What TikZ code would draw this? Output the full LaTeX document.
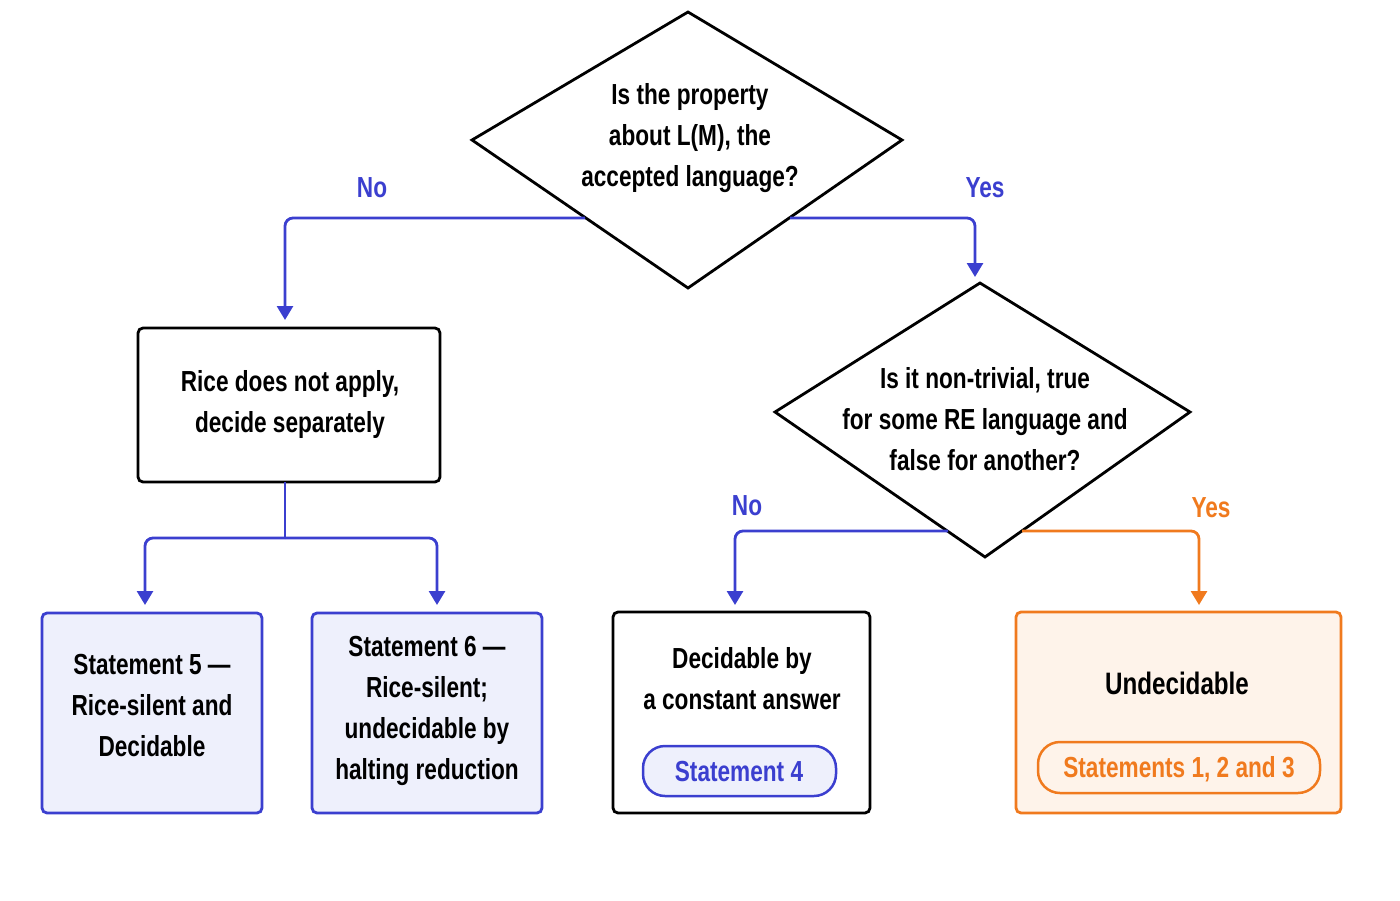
\documentclass[tikz,border=0pt]{standalone}
\usepackage{fontspec}
\setmainfont[FakeStretch=0.78,UprightFont={* Bold}]{Liberation Sans}
\usetikzlibrary{arrows.meta}
\definecolor{bl}{HTML}{3B3FCF}
\definecolor{blf}{HTML}{EEF0FC}
\definecolor{og}{HTML}{F07A1E}
\definecolor{ogf}{HTML}{FEF3EA}
\begin{document}
\begin{tikzpicture}[x=1pt,y=-1pt,
  txt/.style={font=\fontsize{29}{41}\selectfont,align=center,inner sep=0},
  lbl/.style={font=\fontsize{29}{30}\selectfont,inner sep=0},
  box/.style={draw,line width=2.8pt,rounded corners=5pt},
  conn/.style={line width=2.8pt,rounded corners=8pt},
  pill/.style={draw,line width=2.5pt,rounded corners=22pt}]
\useasboundingbox (0,0) rectangle (1400,900);
% diamond 1
\coordinate (d1t) at (688,12); \coordinate (d1l) at (472,140);
\coordinate (d1r) at (902,140); \coordinate (d1b) at (688,288);
\draw[line width=2.8pt] (d1t)--(d1r)--(d1b)--(d1l)--cycle;
\node[txt] (q1) at (690,138) {Is the property\\about L(M), the\\accepted language?};
% diamond 2
\coordinate (d2t) at (980,283); \coordinate (d2l) at (775,412);
\coordinate (d2r) at (1190,412); \coordinate (d2b) at (985,557);
\draw[line width=2.8pt] (d2t)--(d2r)--(d2b)--(d2l)--cycle;
\node[txt] (q2) at (985,419) {Is it non-trivial, true\\for some RE language and\\false for another?};
% boxes
\draw[box] (138,328) rectangle (440,482);
\node[txt] (b1) at (290,404) {Rice does not apply,\\decide separately};
\draw[box,draw=bl,fill=blf] (42,613) rectangle (262,813);
\node[txt] (s5) at (152,706) {Statement 5 —\\Rice-silent and\\Decidable};
\draw[box,draw=bl,fill=blf] (312,613) rectangle (542,813);
\node[txt] (s6) at (427,711) {Statement 6 —\\Rice-silent;\\undecidable by\\halting reduction};
\draw[box] (613,612) rectangle (870,813);
\node[txt] (s4) at (742,679) {Decidable by\\a constant answer};
\draw[pill,draw=bl,fill=blf] (643,746) rectangle (836,796);
\node[lbl,text=bl] (p4) at (739,772) {Statement 4};
\draw[box,draw=og,fill=ogf] (1016,612) rectangle (1341,813);
\node[lbl,font=\fontsize{31}{32}\selectfont] (un) at (1177,683) {Undecidable};
\draw[pill,draw=og,fill=ogf] (1038,742) rectangle (1320,793);
\node[lbl,text=og] (p123) at (1179,769) {Statements 1, 2 and 3};
% connectors
\tikzset{blt/.style={conn,draw=bl,-{Triangle[length=14pt,width=16pt,fill=bl]}},
         ogt/.style={conn,draw=og,-{Triangle[length=14pt,width=16pt,fill=og]}}}
\coordinate (a1) at (585,218); \coordinate (a1e) at (285,320);
\draw[blt] (a1) -| (a1e);
\coordinate (a2) at (790,218); \coordinate (a2e) at (975,277);
\draw[blt] (a2) -| (a2e);
\node[lbl,text=bl] (no1) at (372,188) {No};
\node[lbl,text=bl] (yes1) at (985,188) {Yes};
\coordinate (c0) at (285,482); \coordinate (c1) at (285,538);
\coordinate (c5) at (145,605); \coordinate (c6) at (437,605);
\draw[line width=2.8pt,draw=bl] (c0)--(c1);
\draw[blt] (c1) -| (c5);
\draw[blt] (c1) -| (c6);
\coordinate (e1) at (948,531); \coordinate (e1e) at (735,605);
\draw[blt] (e1) -| (e1e);
\coordinate (e2) at (1022,531); \coordinate (e2e) at (1199,605);
\draw[ogt] (e2) -| (e2e);
\node[lbl,text=bl] (no2) at (747,506) {No};
\node[lbl,text=og] (yes2) at (1211,508) {Yes};
\end{tikzpicture}
\end{document}
